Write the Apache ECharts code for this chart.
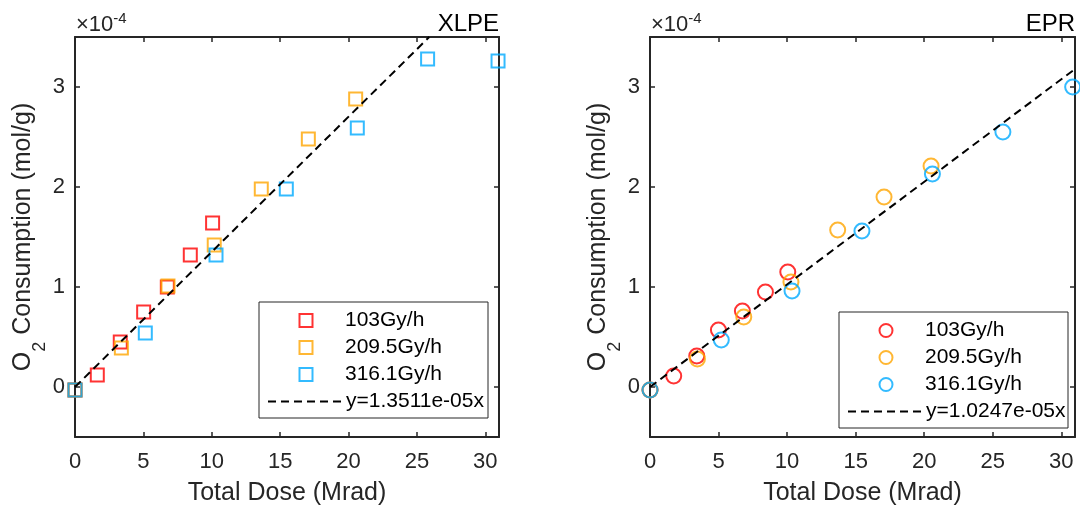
<!DOCTYPE html>
<html>
<head>
<meta charset="utf-8">
<script src="https://cdn.jsdelivr.net/npm/echarts@6/dist/echarts.min.js"></script>
<style>
html,body{margin:0;padding:0;background:#fff}
#main{width:1080px;height:506px}
</style>
</head>
<body>
<div id="main"></div>
<script>
// total dose (Mrad) , O2 consumption (x1e-4 mol/g)
var xlpe103 = [[0,-0.03],[1.63,0.12],[3.31,0.45],[5.02,0.75],[6.75,1.00],[8.43,1.32],[10.06,1.64]];
var xlpe209 = [[0,-0.03],[3.39,0.39],[6.80,1.01],[10.18,1.42],[13.62,1.98],[17.06,2.48],[20.52,2.88]];
var xlpe316 = [[0,-0.03],[5.14,0.54],[10.31,1.32],[15.45,1.98],[20.64,2.59],[25.78,3.28],[30.93,3.26]];
var xlpeFit = [[0,0],[25.9,3.5]];

var epr103 = [[0,-0.03],[1.73,0.11],[3.41,0.31],[4.99,0.57],[6.74,0.76],[8.42,0.95],[10.05,1.15]];
var epr209 = [[0,-0.03],[3.46,0.28],[6.84,0.70],[10.28,1.05],[13.69,1.57],[17.07,1.90],[20.5,2.21]];
var epr316 = [[0,-0.03],[5.2,0.47],[10.36,0.96],[15.46,1.56],[20.6,2.13],[25.74,2.55],[30.83,3.0]];
var eprFit = [[0,0],[31,3.18]];

var xTicks = [0,5,10,15,20,25,30];
var yTicks = [0,1,2,3];
var rateNames = ['103Gy/h','209.5Gy/h','316.1Gy/h'];
var rateColors = ['#ff0000','#ffa500','#00aaff'];
var fitNames = ['y=1.3511e-05x','y=1.0247e-05x'];

var axisColor = '#262626';
var fontFam = 'Liberation Sans, Arial, sans-serif';

function makeX(gi){
	var base = {
		type:'value', gridIndex:gi, min:0, max:31,
		axisLine:{show:true,onZero:false,lineStyle:{color:axisColor,width:2}},
		axisTick:{show:true,inside:true,length:5,customValues:xTicks,lineStyle:{color:axisColor,width:1.5}},
		splitLine:{show:false}
	};
	var bottom = echarts.util.merge({
		position:'bottom',
		name:'Total Dose (Mrad)', nameLocation:'middle', nameGap:44,
		nameTextStyle:{fontSize:25,color:axisColor,fontFamily:fontFam},
		axisLabel:{customValues:xTicks,fontSize:22,color:axisColor,margin:14,fontFamily:fontFam}
	}, base, true);
	var top = echarts.util.merge({position:'top',axisLabel:{show:false}}, base, true);
	return [bottom, top];
}

function makeY(gi){
	var base = {
		type:'value', gridIndex:gi, min:-0.5, max:3.5,
		axisLine:{show:true,onZero:false,lineStyle:{color:axisColor,width:2}},
		axisTick:{show:true,inside:true,length:5,customValues:yTicks,lineStyle:{color:axisColor,width:1.5}},
		splitLine:{show:false}
	};
	var left = echarts.util.merge({
		position:'left',
		name:'{a|O}{s|2}{a| Consumption (mol/g)}', nameLocation:'middle', nameGap:26, nameRotate:90,
		nameTextStyle:{
			rich:{
				a:{fontSize:25,lineHeight:36,verticalAlign:'top',color:axisColor,fontFamily:fontFam},
				s:{fontSize:18,lineHeight:18,verticalAlign:'top',padding:[20,0,0,0],color:axisColor,fontFamily:fontFam}
			}
		},
		axisLabel:{customValues:yTicks,fontSize:22,color:axisColor,margin:10,fontFamily:fontFam}
	}, base, true);
	var right = echarts.util.merge({position:'right',axisLabel:{show:false}}, base, true);
	return [left, right];
}

function scatter(name, data, color, gi, symbol){
	return {
		type:'scatter', name:name, data:data,
		xAxisIndex:gi*2, yAxisIndex:gi*2,
		symbol:symbol, symbolSize:symbol=='circle'?15:13,
		itemStyle:{color:'rgba(0,0,0,0)',borderColor:color,borderWidth:2},
		emphasis:{disabled:true}, z:3
	};
}

function fitLine(name, data, gi){
	return {
		type:'line', name:name, data:data,
		xAxisIndex:gi*2, yAxisIndex:gi*2,
		symbol:'none', clip:true,
		itemStyle:{color:'rgba(0,0,0,0)',borderColor:'rgba(0,0,0,0)',borderWidth:0},
		lineStyle:{color:'#000',width:2,type:[8,5]},
		emphasis:{disabled:true}, z:4
	};
}

var series = [];
var xlpeSets = [xlpe103, xlpe209, xlpe316];
var eprSets = [epr103, epr209, epr316];
for(var i=0;i<3;i++){
	series.push(scatter(rateNames[i], xlpeSets[i], rateColors[i], 0, 'rect'));
}
series.push(fitLine(fitNames[0], xlpeFit, 0));
for(var i=0;i<3;i++){
	series.push(scatter(rateNames[i]+' ', eprSets[i], rateColors[i], 1, 'circle'));
}
series.push(fitLine(fitNames[1], eprFit, 1));

// legend: box + marker rows + fit-line row
function legendParts(boxLeft, boxTop, markerNames, fitName){
	var rowTop = boxTop + 8;
	var marks = {
		orient:'vertical', itemGap:6, padding:0, selectedMode:false, z:6,
		left:boxLeft+39.5, top:rowTop, data:markerNames,
		itemWidth:13, itemHeight:13,
		textStyle:{fontSize:21,color:'#000',fontFamily:fontFam,padding:[0,0,0,27.5]},
		formatter:function(n){ return n.trim(); }
	};
	var fit = {
		orient:'vertical', padding:0, selectedMode:false, z:6,
		left:boxLeft+8, top:rowTop+81, data:[fitName],
		itemWidth:73, itemHeight:13,
		textStyle:{fontSize:21,color:'#000',fontFamily:fontFam}
	};
	return [marks, fit];
}

function legendBox(x, y){
	return {
		type:'rect', z:5,
		shape:{x:x, y:y, width:229, height:116},
		style:{fill:'#fff', stroke:axisColor, lineWidth:1}
	};
}

function expoTitle(left){
	return {
		text:'{a|\u00d710}{b|-4}', left:left, top:11, padding:0,
		textStyle:{
			rich:{
				a:{fontSize:22,lineHeight:28,fontWeight:'normal',color:axisColor,fontFamily:fontFam},
				b:{fontSize:15,lineHeight:15,verticalAlign:'top',fontWeight:'normal',color:axisColor,fontFamily:fontFam}
			}
		}
	};
}

var option = {
	backgroundColor:'#fff',
	animation:false,
	title:[
		{text:'XLPE', right:581, top:12, padding:0, textStyle:{fontSize:24,fontWeight:'normal',color:'#000',fontFamily:fontFam}},
		{text:'EPR', right:5, top:12, padding:0, textStyle:{fontSize:24,fontWeight:'normal',color:'#000',fontFamily:fontFam}},
		expoTitle(76),
		expoTitle(651)
	],
	grid:[
		{left:75, right:581, top:37, height:400, containLabel:false, outerBoundsMode:'none'},
		{left:650, right:5, top:37, height:400, containLabel:false, outerBoundsMode:'none'}
	],
	xAxis: makeX(0).concat(makeX(1)),
	yAxis: makeY(0).concat(makeY(1)),
	legend: legendParts(259, 302, rateNames, fitNames[0])
		.concat(legendParts(839, 312, rateNames.map(function(n){return n+' ';}), fitNames[1])),
	graphic:[legendBox(259, 302), legendBox(839, 312)],
	series: series
};

echarts.init(document.getElementById('main')).setOption(option);
</script>
</body>
</html>
